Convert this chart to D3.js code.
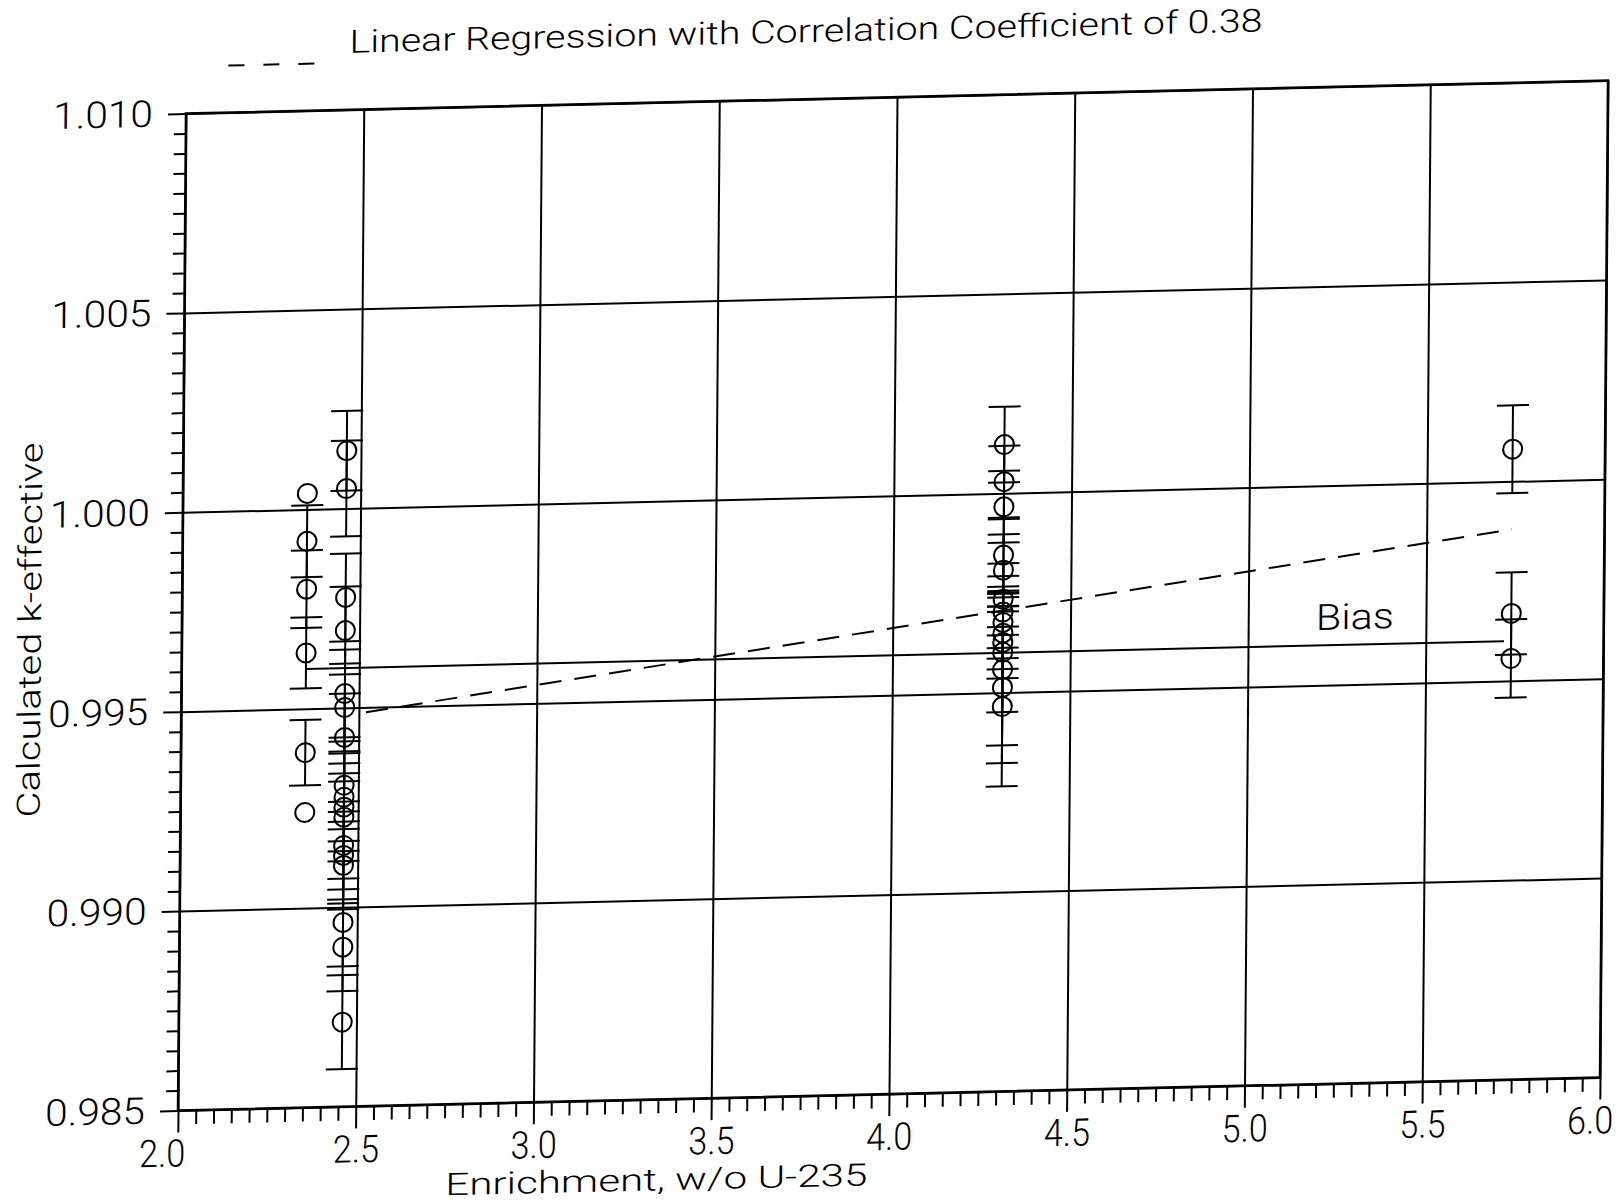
<!DOCTYPE html>
<html>
<head>
<meta charset="utf-8">
<script src="https://cdn.jsdelivr.net/npm/d3@7"></script>
<style>
  body { margin: 0; background: #fff; }
  svg text { font-family: Roboto, "Liberation Sans", sans-serif; font-weight: 300; fill: #000; }
</style>
</head>
<body>
<svg id="chart" width="1623" height="1202"></svg>
<script>
// enrichment of each group of cases (w/o U-235)
const enrichments = [2.35, 2.46, 4.31, 5.74];

// calculated k-effective per group
const kEff = [
  [1.0004, 0.9992, 0.9980, 0.9964, 0.9939, 0.9924],
  [1.00145, 1.00050, 0.99777, 0.99694, 0.99536, 0.99501, 0.99426, 0.99306, 0.99276,
   0.99251, 0.99226, 0.99155, 0.99130, 0.99105, 0.98962, 0.98900, 0.98712],
  [1.00122, 1.00029, 0.99966, 0.99845, 0.99807, 0.99734, 0.99702, 0.99676, 0.99649,
   0.99626, 0.99601, 0.99558, 0.99513, 0.99465],
  [1.00081, 0.99669, 0.99556]
];

// error bar half-length per case (0 = no bar drawn)
const kErr = [
  [0, 0.0009, 0.00097, 0.00089, 0.00082, 0],
  [0.0010, 0.0012, 0.0011, 0.0011, 0.0011, 0.0011, 0.0011, 0.0011, 0.0011,
   0.0011, 0.0011, 0.0011, 0.0011, 0.0011, 0.0011, 0.0011, 0.00118],
  [0.00095, 0.0009, 0.0009, 0.0009, 0.0009, 0.0009, 0.0009, 0.0009, 0.0009,
   0.0009, 0.0015, 0.0019, 0.0019, 0.0020],
  [0.0011, 0.00103, 0.00098]
];

// regression line end points and bias level
const regLine = [[2.52, 0.99488], [5.74, 0.9988]];
const biasK = 0.9960;
const biasRange = [2.35, 5.72];

// axis ticks
const xMajor = [2.0, 2.5, 3.0, 3.5, 4.0, 4.5, 5.0, 5.5, 6.0];
const xLabels = ["2.0", "2.5", "3.0", "3.5", "4.0", "4.5", "5.0", "5.5", "6.0"];
const yMajor = [0.985, 0.990, 0.995, 1.000, 1.005, 1.010];
const yLabels = ["0.985", "0.990", "0.995", "1.000", "1.005", "1.010"];

const W = 1422, H = 997;
const svg = d3.select('#chart');

// the scanned sheet is slightly skewed, so the whole plot sits in a sheared frame
const g = svg.append('g')
  .attr('transform', 'matrix(1,-0.02321,-0.00802,1,186,113.5)');

const x = d3.scaleLinear().domain([2, 6]).range([0, W]);
const y = d3.scaleLinear().domain([0.985, 1.010]).range([H, 0]);

const minorX = d3.range(2.05, 6.0, 0.05).filter(v => Math.abs(v * 2 - Math.round(v * 2)) > 1e-6);
const minorY = d3.range(0.9855, 1.0100, 0.0005).filter(v => Math.abs(v * 200 - Math.round(v * 200)) > 1e-6);

function clean(sel, w) {
  sel.select('.domain').remove();
  sel.selectAll('line').attr('stroke', '#000').attr('stroke-width', w);
}

// grid lines
g.append('g')
  .attr('transform', `translate(0,${H})`)
  .call(d3.axisBottom(x).tickValues(xMajor).tickSize(-H).tickFormat(''))
  .call(s => clean(s, 2));
g.append('g')
  .call(d3.axisLeft(y).tickValues(yMajor).tickSize(-W).tickFormat(''))
  .call(s => clean(s, 2));

// minor ticks
g.append('g')
  .attr('transform', `translate(0,${H})`)
  .call(d3.axisBottom(x).tickValues(minorX).tickSize(14).tickFormat(''))
  .call(s => clean(s, 2));
g.append('g')
  .call(d3.axisLeft(y).tickValues(minorY).tickSize(12).tickFormat(''))
  .call(s => clean(s, 2));

// major ticks with labels
const xAx = g.append('g')
  .attr('transform', `translate(0,${H})`)
  .call(d3.axisBottom(x).tickValues(xMajor).tickSize(22).tickPadding(7)
    .tickFormat((d, i) => xLabels[i]))
  .call(s => clean(s, 2));
xAx.selectAll('text')
  .attr('font-size', 38)
  .attr('textLength', 46)
  .attr('lengthAdjust', 'spacingAndGlyphs')
  .attr('dx', d => d === 2 ? -16 : (d === 6 ? -10 : 0));

const yAx = g.append('g')
  .call(d3.axisLeft(y).tickValues(yMajor).tickSize(18).tickPadding(15)
    .tickFormat((d, i) => yLabels[i]))
  .call(s => clean(s, 2));
yAx.selectAll('text')
  .attr('font-size', 37)
  .attr('textLength', 100)
  .attr('lengthAdjust', 'spacingAndGlyphs');

// plot frame
g.append('rect')
  .attr('x', 0).attr('y', 0).attr('width', W).attr('height', H)
  .attr('fill', 'none').attr('stroke', '#000').attr('stroke-width', 2.5);

// bias line
g.append('line')
  .attr('x1', x(biasRange[0])).attr('x2', x(biasRange[1]))
  .attr('y1', y(biasK)).attr('y2', y(biasK))
  .attr('stroke', '#000').attr('stroke-width', 2);

// regression line
g.append('line')
  .attr('x1', x(regLine[0][0])).attr('y1', y(regLine[0][1]))
  .attr('x2', x(regLine[1][0])).attr('y2', y(regLine[1][1]))
  .attr('stroke', '#000').attr('stroke-width', 2)
  .attr('stroke-dasharray', '22,13');

// points
const points = enrichments.flatMap((e, gi) =>
  kEff[gi].map((k, i) => ({ e: e, k: k, err: kErr[gi][i] })));

const capHalf = 0.045;
const bars = g.append('g').attr('stroke', '#000').attr('stroke-width', 2);
points.filter(p => p.err > 0).forEach(p => {
  bars.append('line')
    .attr('x1', x(p.e)).attr('x2', x(p.e))
    .attr('y1', y(p.k - p.err)).attr('y2', y(p.k + p.err));
  [p.k - p.err, p.k + p.err].forEach(c => {
    bars.append('line')
      .attr('x1', x(p.e - capHalf)).attr('x2', x(p.e + capHalf))
      .attr('y1', y(c)).attr('y2', y(c));
  });
});

g.append('g').selectAll('circle')
  .data(points)
  .enter()
  .append('circle')
  .attr('cx', p => x(p.e))
  .attr('cy', p => y(p.k))
  .attr('r', 9.5)
  .attr('fill', 'none')
  .attr('stroke', '#000')
  .attr('stroke-width', 2);

// texts
g.append('text')
  .attr('x', x(5.30)).attr('y', y(0.99639))
  .attr('text-anchor', 'middle')
  .attr('font-size', 36)
  .attr('textLength', 78).attr('lengthAdjust', 'spacingAndGlyphs')
  .text('Bias');

g.append('text')
  .attr('x', 163).attr('y', -57)
  .attr('font-size', 32)
  .attr('textLength', 913).attr('lengthAdjust', 'spacingAndGlyphs')
  .text('Linear Regression with Correlation Coefficient of 0.38');

g.append('line')
  .attr('x1', 42).attr('x2', 128).attr('y1', -47).attr('y2', -47)
  .attr('stroke', '#000').attr('stroke-width', 2)
  .attr('stroke-dasharray', '16,19');

g.append('text')
  .attr('x', 479).attr('y', H + 91)
  .attr('text-anchor', 'middle')
  .attr('font-size', 31)
  .attr('textLength', 422).attr('lengthAdjust', 'spacingAndGlyphs')
  .text('Enrichment, w/o  U-235');

g.append('text')
  .attr('transform', `translate(-141,${513}) rotate(-90)`)
  .attr('text-anchor', 'middle')
  .attr('font-size', 32)
  .attr('textLength', 375).attr('lengthAdjust', 'spacingAndGlyphs')
  .text('Calculated k-effective');
</script>
</body>
</html>
